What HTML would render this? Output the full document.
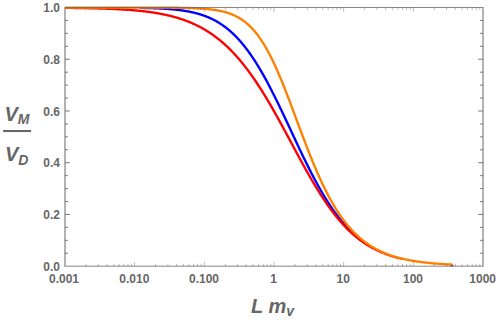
<!DOCTYPE html><html lang="en"><head><title>V_M / V_D versus L m_v</title><meta charset="utf-8"><style>html,body{margin:0;padding:0;background:#fff;overflow:hidden}body{width:498px;height:320px;position:relative}</style></head><body><svg width="498" height="320" viewBox="0 0 498 320" style="position:absolute;left:0;top:0"><rect width="498" height="320" fill="#fff"/><defs><clipPath id="co"><path d="M65.00,7.55 L65.50,7.55 L66.00,7.55 L66.50,7.55 L67.00,7.55 L67.50,7.55 L68.00,7.55 L68.50,7.55 L69.00,7.55 L69.50,7.55 L70.00,7.55 L70.50,7.55 L71.00,7.55 L71.50,7.55 L72.00,7.55 L72.50,7.55 L73.00,7.55 L73.50,7.55 L74.00,7.55 L74.50,7.55 L75.00,7.55 L75.50,7.55 L76.00,7.55 L76.50,7.55 L77.00,7.55 L77.50,7.55 L78.00,7.55 L78.50,7.55 L79.00,7.55 L79.50,7.55 L80.00,7.55 L80.50,7.55 L81.00,7.55 L81.50,7.55 L82.00,7.55 L82.50,7.55 L83.00,7.55 L83.50,7.55 L84.00,7.55 L84.50,7.55 L85.00,7.55 L85.50,7.55 L86.00,7.55 L86.50,7.55 L87.00,7.55 L87.50,7.55 L88.00,7.55 L88.50,7.55 L89.00,7.55 L89.50,7.55 L90.00,7.55 L90.50,7.55 L91.00,7.55 L91.50,7.55 L92.00,7.55 L92.50,7.55 L93.00,7.55 L93.50,7.55 L94.00,7.55 L94.50,7.55 L95.00,7.55 L95.50,7.55 L96.00,7.55 L96.50,7.55 L97.00,7.55 L97.50,7.55 L98.00,7.55 L98.50,7.55 L99.00,7.55 L99.50,7.55 L100.00,7.55 L100.50,7.55 L101.00,7.55 L101.50,7.55 L102.00,7.55 L102.50,7.55 L103.00,7.55 L103.50,7.55 L104.00,7.55 L104.50,7.55 L105.00,7.55 L105.50,7.55 L106.00,7.55 L106.50,7.55 L107.00,7.55 L107.50,7.55 L108.00,7.55 L108.50,7.55 L109.00,7.55 L109.50,7.55 L110.00,7.55 L110.50,7.55 L111.00,7.55 L111.50,7.55 L112.00,7.55 L112.50,7.55 L113.00,7.55 L113.50,7.55 L114.00,7.55 L114.50,7.55 L115.00,7.55 L115.50,7.55 L116.00,7.55 L116.50,7.55 L117.00,7.55 L117.50,7.55 L118.00,7.55 L118.50,7.55 L119.00,7.55 L119.50,7.55 L120.00,7.55 L120.50,7.56 L121.00,7.56 L121.50,7.56 L122.00,7.56 L122.50,7.56 L123.00,7.56 L123.50,7.56 L124.00,7.56 L124.50,7.56 L125.00,7.56 L125.50,7.56 L126.00,7.56 L126.50,7.56 L127.00,7.56 L127.50,7.56 L128.00,7.56 L128.50,7.56 L129.00,7.56 L129.50,7.56 L130.00,7.56 L130.50,7.56 L131.00,7.56 L131.50,7.56 L132.00,7.56 L132.50,7.56 L133.00,7.56 L133.50,7.56 L134.00,7.56 L134.50,7.56 L135.00,7.56 L135.50,7.56 L136.00,7.56 L136.50,7.56 L137.00,7.57 L137.50,7.57 L138.00,7.57 L138.50,7.57 L139.00,7.57 L139.50,7.57 L140.00,7.57 L140.50,7.57 L141.00,7.57 L141.50,7.57 L142.00,7.57 L142.50,7.57 L143.00,7.57 L143.50,7.57 L144.00,7.57 L144.50,7.57 L145.00,7.58 L145.50,7.58 L146.00,7.58 L146.50,7.58 L147.00,7.58 L147.50,7.58 L148.00,7.58 L148.50,7.58 L149.00,7.58 L149.50,7.58 L150.00,7.59 L150.50,7.59 L151.00,7.59 L151.50,7.59 L152.00,7.59 L152.50,7.59 L153.00,7.59 L153.50,7.59 L154.00,7.60 L154.50,7.60 L155.00,7.60 L155.50,7.60 L156.00,7.60 L156.50,7.60 L157.00,7.61 L157.50,7.61 L158.00,7.61 L158.50,7.61 L159.00,7.61 L159.50,7.62 L160.00,7.62 L160.50,7.62 L161.00,7.62 L161.50,7.63 L162.00,7.63 L162.50,7.63 L163.00,7.63 L163.50,7.64 L164.00,7.64 L164.50,7.64 L165.00,7.65 L165.50,7.65 L166.00,7.65 L166.50,7.66 L167.00,7.66 L167.50,7.66 L168.00,7.67 L168.50,7.67 L169.00,7.67 L169.50,7.68 L170.00,7.68 L170.50,7.69 L171.00,7.69 L171.50,7.70 L172.00,7.70 L172.50,7.71 L173.00,7.71 L173.50,7.72 L174.00,7.72 L174.50,7.73 L175.00,7.73 L175.50,7.74 L176.00,7.75 L176.50,7.75 L177.00,7.76 L177.50,7.77 L178.00,7.77 L178.50,7.78 L179.00,7.79 L179.50,7.80 L180.00,7.81 L180.50,7.81 L181.00,7.82 L181.50,7.83 L182.00,7.84 L182.50,7.85 L183.00,7.86 L183.50,7.87 L184.00,7.88 L184.50,7.89 L185.00,7.90 L185.50,7.92 L186.00,7.93 L186.50,7.94 L187.00,7.95 L187.50,7.97 L188.00,7.98 L188.50,8.00 L189.00,8.01 L189.50,8.03 L190.00,8.04 L190.50,8.06 L191.00,8.07 L191.50,8.09 L192.00,8.11 L192.50,8.13 L193.00,8.15 L193.50,8.17 L194.00,8.19 L194.50,8.21 L195.00,8.23 L195.50,8.25 L196.00,8.28 L196.50,8.30 L197.00,8.32 L197.50,8.35 L198.00,8.38 L198.50,8.40 L199.00,8.43 L199.50,8.46 L200.00,8.49 L200.50,8.52 L201.00,8.55 L201.50,8.58 L202.00,8.62 L202.50,8.65 L203.00,8.69 L203.50,8.73 L204.00,8.76 L204.50,8.80 L205.00,8.84 L205.50,8.89 L206.00,8.93 L206.50,8.97 L207.00,9.02 L207.50,9.07 L208.00,9.12 L208.50,9.17 L209.00,9.22 L209.50,9.27 L210.00,9.33 L210.50,9.39 L211.00,9.45 L211.50,9.51 L212.00,9.57 L212.50,9.63 L213.00,9.70 L213.50,9.77 L214.00,9.84 L214.50,9.91 L215.00,9.99 L215.50,10.07 L216.00,10.15 L216.50,10.23 L217.00,10.31 L217.50,10.40 L218.00,10.49 L218.50,10.58 L219.00,10.68 L219.50,10.78 L220.00,10.88 L220.50,10.98 L221.00,11.09 L221.50,11.20 L222.00,11.32 L222.50,11.43 L223.00,11.55 L223.50,11.68 L224.00,11.81 L224.50,11.94 L225.00,12.07 L225.50,12.21 L226.00,12.35 L226.50,12.50 L227.00,12.65 L227.50,12.81 L228.00,12.97 L228.50,13.13 L229.00,13.30 L229.50,13.48 L230.00,13.66 L230.50,13.84 L231.00,14.03 L231.50,14.23 L232.00,14.43 L232.50,14.63 L233.00,14.84 L233.50,15.06 L234.00,15.28 L234.50,15.51 L235.00,15.74 L235.50,15.98 L236.00,16.23 L236.50,16.48 L237.00,16.75 L237.50,17.01 L238.00,17.29 L238.50,17.57 L239.00,17.86 L239.50,18.15 L240.00,18.45 L240.50,18.76 L241.00,19.08 L241.50,19.41 L242.00,19.74 L242.50,20.09 L243.00,20.44 L243.50,20.80 L244.00,21.16 L244.50,21.54 L245.00,21.93 L245.50,22.32 L246.00,22.72 L246.50,23.14 L247.00,23.56 L247.50,23.99 L248.00,24.44 L248.50,24.89 L249.00,25.35 L249.50,25.82 L250.00,26.30 L250.50,26.80 L251.00,27.30 L251.50,27.82 L252.00,28.34 L252.50,28.88 L253.00,29.43 L253.50,29.98 L254.00,30.55 L254.50,31.14 L255.00,31.73 L255.50,32.33 L256.00,32.95 L256.50,33.58 L257.00,34.22 L257.50,34.87 L258.00,35.53 L258.50,36.21 L259.00,36.90 L259.50,37.60 L260.00,38.31 L260.50,39.04 L261.00,39.78 L261.50,40.53 L262.00,41.29 L262.50,42.07 L263.00,42.86 L263.50,43.66 L264.00,44.47 L264.50,45.30 L265.00,46.14 L265.50,46.99 L266.00,47.86 L266.50,48.74 L267.00,49.63 L267.50,50.53 L268.00,51.45 L268.50,52.37 L269.00,53.31 L269.50,54.27 L270.00,55.23 L270.50,56.21 L271.00,57.20 L271.50,58.20 L272.00,59.22 L272.50,60.24 L273.00,61.28 L273.50,62.33 L274.00,63.39 L274.50,64.46 L275.00,65.54 L275.50,66.64 L276.00,67.74 L276.50,68.86 L277.00,69.98 L277.50,71.12 L278.00,72.27 L278.50,73.42 L279.00,74.59 L279.50,75.76 L280.00,76.95 L280.50,78.14 L281.00,79.35 L281.50,80.56 L282.00,81.78 L282.50,83.01 L283.00,84.24 L283.50,85.49 L284.00,86.74 L284.50,88.00 L285.00,89.26 L285.50,90.54 L286.00,91.81 L286.50,93.10 L287.00,94.39 L287.50,95.68 L288.00,96.99 L288.50,98.29 L289.00,99.60 L289.50,100.92 L290.00,102.24 L290.50,103.56 L291.00,104.88 L291.50,106.21 L292.00,107.55 L292.50,108.88 L293.00,110.22 L293.50,111.56 L294.00,112.90 L294.50,114.24 L295.00,115.59 L295.50,116.93 L296.00,118.27 L296.50,119.62 L297.00,120.97 L297.50,122.31 L298.00,123.65 L298.50,125.00 L299.00,126.34 L299.50,127.68 L300.00,129.02 L300.50,130.36 L301.00,131.69 L301.50,133.02 L302.00,134.35 L302.50,135.68 L303.00,137.00 L303.50,138.32 L304.00,139.64 L304.50,140.95 L305.00,142.26 L305.50,143.57 L306.00,144.86 L306.50,146.16 L307.00,147.45 L307.50,148.73 L308.00,150.01 L308.50,151.28 L309.00,152.55 L309.50,153.81 L310.00,155.07 L310.50,156.32 L311.00,157.56 L311.50,158.79 L312.00,160.02 L312.50,161.24 L313.00,162.46 L313.50,163.66 L314.00,164.86 L314.50,166.05 L315.00,167.24 L315.50,168.41 L316.00,169.58 L316.50,170.74 L317.00,171.89 L317.50,173.04 L318.00,174.17 L318.50,175.30 L319.00,176.42 L319.50,177.53 L320.00,178.63 L320.50,179.72 L321.00,180.80 L321.50,181.87 L322.00,182.94 L322.50,184.00 L323.00,185.04 L323.50,186.08 L324.00,187.11 L324.50,188.13 L325.00,189.14 L325.50,190.14 L326.00,191.13 L326.50,192.11 L327.00,193.09 L327.50,194.05 L328.00,195.00 L328.50,195.95 L329.00,196.88 L329.50,197.81 L330.00,198.73 L330.50,199.63 L331.00,200.53 L331.50,201.42 L332.00,202.30 L332.50,203.17 L333.00,204.03 L333.50,204.88 L334.00,205.72 L334.50,206.56 L335.00,207.38 L335.50,208.19 L336.00,209.00 L336.50,209.80 L337.00,210.58 L337.50,211.36 L338.00,212.13 L338.50,212.89 L339.00,213.64 L339.50,214.38 L340.00,215.12 L340.50,215.84 L341.00,216.56 L341.50,217.27 L342.00,217.97 L342.50,218.66 L343.00,219.34 L343.50,220.01 L344.00,220.68 L344.50,221.33 L345.00,221.98 L345.50,222.62 L346.00,223.26 L346.50,223.88 L347.00,224.50 L347.50,225.11 L348.00,225.71 L348.50,226.30 L349.00,226.89 L349.50,227.46 L350.00,228.03 L350.50,228.60 L351.00,229.15 L351.50,229.70 L352.00,230.24 L352.50,230.77 L353.00,231.30 L353.50,231.82 L354.00,232.33 L354.50,232.84 L355.00,233.34 L355.50,233.83 L356.00,234.31 L356.50,234.79 L357.00,235.26 L357.50,235.73 L358.00,236.19 L358.50,236.64 L359.00,237.09 L359.50,237.53 L360.00,237.96 L360.50,238.39 L361.00,238.81 L361.50,239.22 L362.00,239.63 L362.50,240.04 L363.00,240.44 L363.50,240.83 L364.00,241.22 L364.50,241.60 L365.00,241.97 L365.50,242.34 L366.00,242.71 L366.50,243.07 L367.00,243.42 L367.50,243.77 L368.00,244.12 L368.50,244.46 L369.00,244.79 L369.50,245.12 L370.00,245.44 L370.50,245.76 L371.00,246.08 L371.50,246.39 L372.00,246.70 L372.50,247.00 L373.00,247.29 L373.50,247.59 L374.00,247.88 L374.50,248.16 L375.00,248.44 L375.50,248.71 L376.00,248.99 L376.50,249.25 L377.00,249.52 L377.50,249.78 L378.00,250.03 L378.50,250.28 L379.00,250.53 L379.50,250.77 L380.00,251.01 L380.50,251.25 L381.00,251.48 L381.50,251.71 L382.00,251.94 L382.50,252.16 L383.00,252.38 L383.50,252.60 L384.00,252.81 L384.50,253.02 L385.00,253.23 L385.50,253.43 L386.00,253.63 L386.50,253.82 L387.00,254.02 L387.50,254.21 L388.00,254.40 L388.50,254.58 L389.00,254.76 L389.50,254.94 L390.00,255.12 L390.50,255.29 L391.00,255.46 L391.50,255.63 L392.00,255.80 L392.50,255.96 L393.00,256.12 L393.50,256.28 L394.00,256.44 L394.50,256.59 L395.00,256.74 L395.50,256.89 L396.00,257.03 L396.50,257.18 L397.00,257.32 L397.50,257.46 L398.00,257.60 L398.50,257.73 L399.00,257.86 L399.50,257.99 L400.00,258.12 L400.50,258.25 L401.00,258.37 L401.50,258.50 L402.00,258.62 L402.50,258.74 L403.00,258.85 L403.50,258.97 L404.00,259.08 L404.50,259.19 L405.00,259.30 L405.50,259.41 L406.00,259.52 L406.50,259.62 L407.00,259.72 L407.50,259.83 L408.00,259.93 L408.50,260.02 L409.00,260.12 L409.50,260.22 L410.00,260.31 L410.50,260.40 L411.00,260.49 L411.50,260.58 L412.00,260.67 L412.50,260.75 L413.00,260.84 L413.50,260.92 L414.00,261.00 L414.50,261.09 L415.00,261.17 L415.50,261.24 L416.00,261.32 L416.50,261.40 L417.00,261.47 L417.50,261.54 L418.00,261.62 L418.50,261.69 L419.00,261.76 L419.50,261.83 L420.00,261.89 L420.50,261.96 L421.00,262.03 L421.50,262.09 L422.00,262.15 L422.50,262.22 L423.00,262.28 L423.50,262.34 L424.00,262.40 L424.50,262.46 L425.00,262.51 L425.50,262.57 L426.00,262.63 L426.50,262.68 L427.00,262.74 L427.50,262.79 L428.00,262.84 L428.50,262.89 L429.00,262.94 L429.50,262.99 L430.00,263.04 L430.50,263.09 L431.00,263.14 L431.50,263.18 L432.00,263.23 L432.50,263.27 L433.00,263.32 L433.50,263.36 L434.00,263.41 L434.50,263.45 L435.00,263.49 L435.50,263.53 L436.00,263.57 L436.50,263.61 L437.00,263.65 L437.50,263.69 L438.00,263.73 L438.50,263.76 L439.00,263.80 L439.50,263.83 L440.00,263.87 L440.50,263.90 L441.00,263.94 L441.50,263.97 L442.00,264.01 L442.50,264.04 L443.00,264.07 L443.50,264.10 L444.00,264.13 L444.50,264.16 L445.00,264.19 L445.50,264.22 L446.00,264.25 L446.50,264.28 L447.00,264.31 L447.50,264.34 L448.00,264.36 L448.50,264.39 L449.00,264.42 L449.50,264.44 L450.00,264.47 L450.50,264.49 L451.00,264.52 L451.50,264.54 L452.00,264.56 L452.30,264.58 L455.30,264.58 L455.30,330 L0,330 L0,7.55Z"/></clipPath></defs><g clip-path="url(#co)"><path d="M140.00,7.87 L140.50,7.88 L141.00,7.89 L141.50,7.90 L142.00,7.91 L142.50,7.92 L143.00,7.93 L143.50,7.94 L144.00,7.95 L144.50,7.96 L145.00,7.97 L145.50,7.98 L146.00,7.99 L146.50,8.01 L147.00,8.02 L147.50,8.03 L148.00,8.04 L148.50,8.06 L149.00,8.07 L149.50,8.09 L150.00,8.10 L150.50,8.12 L151.00,8.13 L151.50,8.15 L152.00,8.16 L152.50,8.18 L153.00,8.20 L153.50,8.22 L154.00,8.23 L154.50,8.25 L155.00,8.27 L155.50,8.29 L156.00,8.31 L156.50,8.33 L157.00,8.35 L157.50,8.37 L158.00,8.40 L158.50,8.42 L159.00,8.44 L159.50,8.47 L160.00,8.49 L160.50,8.52 L161.00,8.54 L161.50,8.57 L162.00,8.59 L162.50,8.62 L163.00,8.65 L163.50,8.68 L164.00,8.71 L164.50,8.74 L165.00,8.77 L165.50,8.80 L166.00,8.84 L166.50,8.87 L167.00,8.91 L167.50,8.94 L168.00,8.98 L168.50,9.01 L169.00,9.05 L169.50,9.09 L170.00,9.13 L170.50,9.17 L171.00,9.21 L171.50,9.26 L172.00,9.30 L172.50,9.35 L173.00,9.39 L173.50,9.44 L174.00,9.49 L174.50,9.54 L175.00,9.59 L175.50,9.64 L176.00,9.70 L176.50,9.75 L177.00,9.81 L177.50,9.86 L178.00,9.92 L178.50,9.98 L179.00,10.04 L179.50,10.10 L180.00,10.17 L180.50,10.23 L181.00,10.30 L181.50,10.37 L182.00,10.44 L182.50,10.51 L183.00,10.59 L183.50,10.66 L184.00,10.74 L184.50,10.82 L185.00,10.90 L185.50,10.98 L186.00,11.06 L186.50,11.15 L187.00,11.24 L187.50,11.33 L188.00,11.42 L188.50,11.51 L189.00,11.61 L189.50,11.71 L190.00,11.81 L190.50,11.91 L191.00,12.01 L191.50,12.12 L192.00,12.23 L192.50,12.34 L193.00,12.45 L193.50,12.57 L194.00,12.69 L194.50,12.81 L195.00,12.93 L195.50,13.06 L196.00,13.19 L196.50,13.32 L197.00,13.45 L197.50,13.59 L198.00,13.73 L198.50,13.88 L199.00,14.02 L199.50,14.17 L200.00,14.32 L200.50,14.48 L201.00,14.63 L201.50,14.80 L202.00,14.96 L202.50,15.13 L203.00,15.30 L203.50,15.47 L204.00,15.65 L204.50,15.83 L205.00,16.02 L205.50,16.21 L206.00,16.40 L206.50,16.59 L207.00,16.79 L207.50,17.00 L208.00,17.20 L208.50,17.41 L209.00,17.63 L209.50,17.85 L210.00,18.07 L210.50,18.30 L211.00,18.53 L211.50,18.77 L212.00,19.01 L212.50,19.25 L213.00,19.50 L213.50,19.75 L214.00,20.01 L214.50,20.27 L215.00,20.54 L215.50,20.81 L216.00,21.09 L216.50,21.37 L217.00,21.65 L217.50,21.94 L218.00,22.24 L218.50,22.54 L219.00,22.85 L219.50,23.16 L220.00,23.47 L220.50,23.79 L221.00,24.12 L221.50,24.45 L222.00,24.79 L222.50,25.13 L223.00,25.48 L223.50,25.84 L224.00,26.20 L224.50,26.56 L225.00,26.93 L225.50,27.31 L226.00,27.69 L226.50,28.08 L227.00,28.47 L227.50,28.87 L228.00,29.28 L228.50,29.69 L229.00,30.11 L229.50,30.54 L230.00,30.97 L230.50,31.41 L231.00,31.85 L231.50,32.30 L232.00,32.75 L232.50,33.22 L233.00,33.69 L233.50,34.16 L234.00,34.64 L234.50,35.13 L235.00,35.63 L235.50,36.13 L236.00,36.64 L236.50,37.15 L237.00,37.68 L237.50,38.21 L238.00,38.74 L238.50,39.28 L239.00,39.83 L239.50,40.39 L240.00,40.95 L240.50,41.52 L241.00,42.10 L241.50,42.69 L242.00,43.28 L242.50,43.88 L243.00,44.48 L243.50,45.09 L244.00,45.71 L244.50,46.34 L245.00,46.97 L245.50,47.61 L246.00,48.26 L246.50,48.92 L247.00,49.58 L247.50,50.25 L248.00,50.92 L248.50,51.61 L249.00,52.30 L249.50,52.99 L250.00,53.70 L250.50,54.41 L251.00,55.13 L251.50,55.85 L252.00,56.59 L252.50,57.33 L253.00,58.07 L253.50,58.83 L254.00,59.59 L254.50,60.35 L255.00,61.13 L255.50,61.91 L256.00,62.70 L256.50,63.49 L257.00,64.30 L257.50,65.10 L258.00,65.92 L258.50,66.74 L259.00,67.57 L259.50,68.40 L260.00,69.24 L260.50,70.09 L261.00,70.95 L261.50,71.81 L262.00,72.67 L262.50,73.55 L263.00,74.43 L263.50,75.31 L264.00,76.20 L264.50,77.10 L265.00,78.00 L265.50,78.91 L266.00,79.83 L266.50,80.75 L267.00,81.67 L267.50,82.60 L268.00,83.54 L268.50,84.48 L269.00,85.43 L269.50,86.38 L270.00,87.34 L270.50,88.30 L271.00,89.27 L271.50,90.24 L272.00,91.22 L272.50,92.20 L273.00,93.19 L273.50,94.18 L274.00,95.17 L274.50,96.17 L275.00,97.18 L275.50,98.18 L276.00,99.20 L276.50,100.21 L277.00,101.23 L277.50,102.25 L278.00,103.28 L278.50,104.31 L279.00,105.34 L279.50,106.37 L280.00,107.41 L280.50,108.45 L281.00,109.50 L281.50,110.54 L282.00,111.59 L282.50,112.65 L283.00,113.70 L283.50,114.75 L284.00,115.81 L284.50,116.87 L285.00,117.93 L285.50,119.00 L286.00,120.06 L286.50,121.13 L287.00,122.19 L287.50,123.26 L288.00,124.33 L288.50,125.40 L289.00,126.47 L289.50,127.54 L290.00,128.61 L290.50,129.69 L291.00,130.76 L291.50,131.83 L292.00,132.90 L292.50,133.97 L293.00,135.04 L293.50,136.12 L294.00,137.19 L294.50,138.25 L295.00,139.32 L295.50,140.39 L296.00,141.46 L296.50,142.52 L297.00,143.59 L297.50,144.65 L298.00,145.71 L298.50,146.77 L299.00,147.82 L299.50,148.88 L300.00,149.93 L300.50,150.98 L301.00,152.03 L301.50,153.08 L302.00,154.12 L302.50,155.16 L303.00,156.20 L303.50,157.23 L304.00,158.26 L304.50,159.29 L305.00,160.31 L305.50,161.33 L306.00,162.35 L306.50,163.37 L307.00,164.38 L307.50,165.38 L308.00,166.39 L308.50,167.38 L309.00,168.38 L309.50,169.37 L310.00,170.35 L310.50,171.34 L311.00,172.31 L311.50,173.29 L312.00,174.25 L312.50,175.22 L313.00,176.17 L313.50,177.13 L314.00,178.08 L314.50,179.02 L315.00,179.96 L315.50,180.89 L316.00,181.82 L316.50,182.74 L317.00,183.65 L317.50,184.56 L318.00,185.47 L318.50,186.37 L319.00,187.26 L319.50,188.15 L320.00,189.03 L320.50,189.91 L321.00,190.78 L321.50,191.65 L322.00,192.51 L322.50,193.36 L323.00,194.20 L323.50,195.04 L324.00,195.88 L324.50,196.71 L325.00,197.53 L325.50,198.34 L326.00,199.15 L326.50,199.96 L327.00,200.75 L327.50,201.54 L328.00,202.33 L328.50,203.10 L329.00,203.88 L329.50,204.64 L330.00,205.40 L330.50,206.15 L331.00,206.89 L331.50,207.63 L332.00,208.36 L332.50,209.09 L333.00,209.81 L333.50,210.52 L334.00,211.23 L334.50,211.92 L335.00,212.62 L335.50,213.30 L336.00,213.98 L336.50,214.66 L337.00,215.32 L337.50,215.98 L338.00,216.64 L338.50,217.28 L339.00,217.92 L339.50,218.56 L340.00,219.19 L340.50,219.81 L341.00,220.42 L341.50,221.03 L342.00,221.63 L342.50,222.23 L343.00,222.82 L343.50,223.40 L344.00,223.98 L344.50,224.55 L345.00,225.11 L345.50,225.67 L346.00,226.22 L346.50,226.77 L347.00,227.31 L347.50,227.84 L348.00,228.37 L348.50,228.89 L349.00,229.40 L349.50,229.91 L350.00,230.42 L350.50,230.92 L351.00,231.41 L351.50,231.89 L352.00,232.37 L352.50,232.85 L353.00,233.32 L353.50,233.78 L354.00,234.24 L354.50,234.69 L355.00,235.14 L355.50,235.58 L356.00,236.02 L356.50,236.45 L357.00,236.87 L357.50,237.29 L358.00,237.71 L358.50,238.11 L359.00,238.52 L359.50,238.92 L360.00,239.31 L360.50,239.70 L361.00,240.08 L361.50,240.46 L362.00,240.84 L362.50,241.21 L363.00,241.57 L363.50,241.93 L364.00,242.29 L364.50,242.64 L365.00,242.98 L365.50,243.32 L366.00,243.66 L366.50,243.99 L367.00,244.32 L367.50,244.64 L368.00,244.96 L368.50,245.28 L369.00,245.59 L369.50,245.89 L370.00,246.19" fill="none" stroke="#0000ff" stroke-width="2.35" stroke-linejoin="round"/><path d="M65.00,7.85 L65.50,7.86 L66.00,7.86 L66.50,7.87 L67.00,7.87 L67.50,7.88 L68.00,7.88 L68.50,7.89 L69.00,7.89 L69.50,7.90 L70.00,7.90 L70.50,7.91 L71.00,7.92 L71.50,7.92 L72.00,7.93 L72.50,7.93 L73.00,7.94 L73.50,7.95 L74.00,7.95 L74.50,7.96 L75.00,7.97 L75.50,7.97 L76.00,7.98 L76.50,7.99 L77.00,7.99 L77.50,8.00 L78.00,8.01 L78.50,8.02 L79.00,8.02 L79.50,8.03 L80.00,8.04 L80.50,8.05 L81.00,8.06 L81.50,8.07 L82.00,8.07 L82.50,8.08 L83.00,8.09 L83.50,8.10 L84.00,8.11 L84.50,8.12 L85.00,8.13 L85.50,8.14 L86.00,8.15 L86.50,8.16 L87.00,8.17 L87.50,8.18 L88.00,8.19 L88.50,8.20 L89.00,8.21 L89.50,8.22 L90.00,8.23 L90.50,8.24 L91.00,8.25 L91.50,8.26 L92.00,8.27 L92.50,8.29 L93.00,8.30 L93.50,8.31 L94.00,8.32 L94.50,8.34 L95.00,8.35 L95.50,8.36 L96.00,8.37 L96.50,8.39 L97.00,8.40 L97.50,8.42 L98.00,8.43 L98.50,8.44 L99.00,8.46 L99.50,8.47 L100.00,8.49 L100.50,8.50 L101.00,8.52 L101.50,8.53 L102.00,8.55 L102.50,8.57 L103.00,8.58 L103.50,8.60 L104.00,8.62 L104.50,8.63 L105.00,8.65 L105.50,8.67 L106.00,8.69 L106.50,8.71 L107.00,8.72 L107.50,8.74 L108.00,8.76 L108.50,8.78 L109.00,8.80 L109.50,8.82 L110.00,8.84 L110.50,8.86 L111.00,8.89 L111.50,8.91 L112.00,8.93 L112.50,8.95 L113.00,8.97 L113.50,9.00 L114.00,9.02 L114.50,9.04 L115.00,9.07 L115.50,9.09 L116.00,9.12 L116.50,9.14 L117.00,9.17 L117.50,9.19 L118.00,9.22 L118.50,9.25 L119.00,9.27 L119.50,9.30 L120.00,9.33 L120.50,9.36 L121.00,9.39 L121.50,9.42 L122.00,9.45 L122.50,9.48 L123.00,9.51 L123.50,9.54 L124.00,9.57 L124.50,9.60 L125.00,9.64 L125.50,9.67 L126.00,9.70 L126.50,9.74 L127.00,9.77 L127.50,9.81 L128.00,9.84 L128.50,9.88 L129.00,9.92 L129.50,9.95 L130.00,9.99 L130.50,10.03 L131.00,10.07 L131.50,10.11 L132.00,10.15 L132.50,10.19 L133.00,10.23 L133.50,10.28 L134.00,10.32 L134.50,10.36 L135.00,10.41 L135.50,10.45 L136.00,10.50 L136.50,10.54 L137.00,10.59 L137.50,10.64 L138.00,10.69 L138.50,10.74 L139.00,10.79 L139.50,10.84 L140.00,10.89 L140.50,10.94 L141.00,10.99 L141.50,11.05 L142.00,11.10 L142.50,11.16 L143.00,11.21 L143.50,11.27 L144.00,11.33 L144.50,11.39 L145.00,11.45 L145.50,11.51 L146.00,11.57 L146.50,11.63 L147.00,11.70 L147.50,11.76 L148.00,11.83 L148.50,11.89 L149.00,11.96 L149.50,12.03 L150.00,12.10 L150.50,12.17 L151.00,12.24 L151.50,12.31 L152.00,12.38 L152.50,12.46 L153.00,12.53 L153.50,12.61 L154.00,12.69 L154.50,12.77 L155.00,12.85 L155.50,12.93 L156.00,13.01 L156.50,13.09 L157.00,13.18 L157.50,13.26 L158.00,13.35 L158.50,13.44 L159.00,13.53 L159.50,13.62 L160.00,13.71 L160.50,13.80 L161.00,13.90 L161.50,13.99 L162.00,14.09 L162.50,14.19 L163.00,14.29 L163.50,14.39 L164.00,14.50 L164.50,14.60 L165.00,14.71 L165.50,14.81 L166.00,14.92 L166.50,15.03 L167.00,15.15 L167.50,15.26 L168.00,15.37 L168.50,15.49 L169.00,15.61 L169.50,15.73 L170.00,15.85 L170.50,15.97 L171.00,16.10 L171.50,16.23 L172.00,16.35 L172.50,16.48 L173.00,16.62 L173.50,16.75 L174.00,16.89 L174.50,17.02 L175.00,17.16 L175.50,17.30 L176.00,17.45 L176.50,17.59 L177.00,17.74 L177.50,17.89 L178.00,18.04 L178.50,18.19 L179.00,18.35 L179.50,18.50 L180.00,18.66 L180.50,18.82 L181.00,18.99 L181.50,19.15 L182.00,19.32 L182.50,19.49 L183.00,19.66 L183.50,19.84 L184.00,20.01 L184.50,20.19 L185.00,20.37 L185.50,20.56 L186.00,20.74 L186.50,20.93 L187.00,21.12 L187.50,21.31 L188.00,21.51 L188.50,21.71 L189.00,21.91 L189.50,22.11 L190.00,22.32 L190.50,22.52 L191.00,22.74 L191.50,22.95 L192.00,23.16 L192.50,23.38 L193.00,23.61 L193.50,23.83 L194.00,24.06 L194.50,24.29 L195.00,24.52 L195.50,24.75 L196.00,24.99 L196.50,25.23 L197.00,25.48 L197.50,25.73 L198.00,25.98 L198.50,26.23 L199.00,26.48 L199.50,26.74 L200.00,27.01 L200.50,27.27 L201.00,27.54 L201.50,27.81 L202.00,28.09 L202.50,28.36 L203.00,28.65 L203.50,28.93 L204.00,29.22 L204.50,29.51 L205.00,29.81 L205.50,30.10 L206.00,30.40 L206.50,30.71 L207.00,31.02 L207.50,31.33 L208.00,31.65 L208.50,31.96 L209.00,32.29 L209.50,32.61 L210.00,32.94 L210.50,33.28 L211.00,33.61 L211.50,33.96 L212.00,34.30 L212.50,34.65 L213.00,35.00 L213.50,35.36 L214.00,35.72 L214.50,36.08 L215.00,36.45 L215.50,36.82 L216.00,37.20 L216.50,37.58 L217.00,37.96 L217.50,38.35 L218.00,38.74 L218.50,39.13 L219.00,39.53 L219.50,39.94 L220.00,40.35 L220.50,40.76 L221.00,41.18 L221.50,41.60 L222.00,42.02 L222.50,42.45 L223.00,42.88 L223.50,43.32 L224.00,43.76 L224.50,44.21 L225.00,44.66 L225.50,45.12 L226.00,45.58 L226.50,46.04 L227.00,46.51 L227.50,46.98 L228.00,47.46 L228.50,47.94 L229.00,48.43 L229.50,48.92 L230.00,49.42 L230.50,49.92 L231.00,50.42 L231.50,50.93 L232.00,51.45 L232.50,51.97 L233.00,52.49 L233.50,53.02 L234.00,53.55 L234.50,54.09 L235.00,54.63 L235.50,55.18 L236.00,55.73 L236.50,56.29 L237.00,56.85 L237.50,57.42 L238.00,57.99 L238.50,58.56 L239.00,59.14 L239.50,59.73 L240.00,60.32 L240.50,60.91 L241.00,61.51 L241.50,62.12 L242.00,62.73 L242.50,63.34 L243.00,63.96 L243.50,64.59 L244.00,65.21 L244.50,65.85 L245.00,66.49 L245.50,67.13 L246.00,67.78 L246.50,68.43 L247.00,69.09 L247.50,69.75 L248.00,70.42 L248.50,71.09 L249.00,71.77 L249.50,72.45 L250.00,73.13 L250.50,73.83 L251.00,74.52 L251.50,75.22 L252.00,75.93 L252.50,76.64 L253.00,77.35 L253.50,78.07 L254.00,78.79 L254.50,79.52 L255.00,80.26 L255.50,80.99 L256.00,81.73 L256.50,82.48 L257.00,83.23 L257.50,83.99 L258.00,84.75 L258.50,85.51 L259.00,86.28 L259.50,87.05 L260.00,87.83 L260.50,88.61 L261.00,89.40 L261.50,90.19 L262.00,90.98 L262.50,91.78 L263.00,92.58 L263.50,93.39 L264.00,94.20 L264.50,95.01 L265.00,95.83 L265.50,96.65 L266.00,97.48 L266.50,98.31 L267.00,99.14 L267.50,99.98 L268.00,100.82 L268.50,101.67 L269.00,102.51 L269.50,103.37 L270.00,104.22 L270.50,105.08 L271.00,105.94 L271.50,106.80 L272.00,107.67 L272.50,108.54 L273.00,109.42 L273.50,110.29 L274.00,111.17 L274.50,112.05 L275.00,112.94 L275.50,113.83 L276.00,114.72 L276.50,115.61 L277.00,116.51 L277.50,117.41 L278.00,118.31 L278.50,119.21 L279.00,120.11 L279.50,121.02 L280.00,121.93 L280.50,122.84 L281.00,123.75 L281.50,124.67 L282.00,125.58 L282.50,126.50 L283.00,127.42 L283.50,128.34 L284.00,129.27 L284.50,130.19 L285.00,131.11 L285.50,132.04 L286.00,132.97 L286.50,133.90 L287.00,134.82 L287.50,135.75 L288.00,136.68 L288.50,137.62 L289.00,138.55 L289.50,139.48 L290.00,140.41 L290.50,141.34 L291.00,142.28 L291.50,143.21 L292.00,144.14 L292.50,145.07 L293.00,146.01 L293.50,146.94 L294.00,147.87 L294.50,148.80 L295.00,149.73 L295.50,150.66 L296.00,151.59 L296.50,152.52 L297.00,153.45 L297.50,154.37 L298.00,155.30 L298.50,156.22 L299.00,157.14 L299.50,158.06 L300.00,158.98 L300.50,159.90 L301.00,160.82 L301.50,161.73 L302.00,162.64 L302.50,163.55 L303.00,164.46 L303.50,165.37 L304.00,166.27 L304.50,167.17 L305.00,168.07 L305.50,168.97 L306.00,169.86 L306.50,170.76 L307.00,171.65 L307.50,172.53 L308.00,173.41 L308.50,174.29 L309.00,175.17 L309.50,176.04 L310.00,176.91 L310.50,177.78 L311.00,178.65 L311.50,179.51 L312.00,180.36 L312.50,181.22 L313.00,182.07 L313.50,182.91 L314.00,183.75 L314.50,184.59 L315.00,185.43 L315.50,186.26 L316.00,187.08 L316.50,187.90 L317.00,188.72 L317.50,189.53 L318.00,190.34 L318.50,191.15 L319.00,191.95 L319.50,192.74 L320.00,193.53 L320.50,194.32 L321.00,195.10 L321.50,195.88 L322.00,196.65 L322.50,197.42 L323.00,198.18 L323.50,198.94 L324.00,199.69 L324.50,200.44 L325.00,201.18 L325.50,201.92 L326.00,202.65 L326.50,203.38 L327.00,204.10 L327.50,204.82 L328.00,205.53 L328.50,206.24 L329.00,206.94 L329.50,207.64 L330.00,208.33 L330.50,209.02 L331.00,209.70 L331.50,210.37 L332.00,211.04 L332.50,211.70 L333.00,212.36 L333.50,213.02 L334.00,213.66 L334.50,214.31 L335.00,214.94 L335.50,215.58 L336.00,216.20 L336.50,216.82 L337.00,217.44 L337.50,218.05 L338.00,218.65 L338.50,219.25 L339.00,219.84 L339.50,220.43 L340.00,221.01 L340.50,221.59 L341.00,222.16 L341.50,222.72 L342.00,223.28 L342.50,223.84 L343.00,224.39 L343.50,224.93 L344.00,225.47 L344.50,226.00 L345.00,226.53 L345.50,227.05 L346.00,227.57 L346.50,228.08 L347.00,228.58 L347.50,229.09 L348.00,229.58 L348.50,230.07 L349.00,230.56 L349.50,231.03 L350.00,231.51 L350.50,231.98 L351.00,232.44 L351.50,232.90 L352.00,233.35 L352.50,233.80 L353.00,234.25 L353.50,234.69 L354.00,235.12 L354.50,235.55 L355.00,235.97 L355.50,236.39 L356.00,236.80 L356.50,237.21 L357.00,237.62 L357.50,238.02 L358.00,238.41 L358.50,238.80 L359.00,239.19 L359.50,239.57 L360.00,239.94 L360.50,240.31 L361.00,240.68 L361.50,241.04 L362.00,241.40 L362.50,241.76 L363.00,242.10 L363.50,242.45 L364.00,242.79 L364.50,243.13 L365.00,243.46 L365.50,243.79 L366.00,244.11 L366.50,244.43 L367.00,244.74 L367.50,245.05 L368.00,245.36 L368.50,245.66 L369.00,245.96 L369.50,246.26 L370.00,246.55 L370.50,246.84 L371.00,247.12 L371.50,247.40 L372.00,247.68 L372.50,247.95 L373.00,248.22 L373.50,248.48 L374.00,248.74 L374.50,249.00 L375.00,249.26 L375.50,249.51 L376.00,249.76 L376.50,250.00 L377.00,250.24 L377.50,250.48 L378.00,250.71 L378.50,250.94 L379.00,251.17 L379.50,251.40 L380.00,251.62 L380.50,251.84 L381.00,252.05 L381.50,252.26 L382.00,252.47 L382.50,252.68 L383.00,252.88 L383.50,253.08 L384.00,253.28 L384.50,253.48 L385.00,253.67 L385.50,253.86 L386.00,254.04 L386.50,254.23 L387.00,254.41 L387.50,254.59 L388.00,254.76 L388.50,254.94 L389.00,255.11 L389.50,255.28 L390.00,255.44 L390.50,255.61 L391.00,255.77 L391.50,255.93 L392.00,256.08 L392.50,256.24 L393.00,256.39 L393.50,256.54 L394.00,256.69 L394.50,256.83 L395.00,256.98 L395.50,257.12 L396.00,257.26 L396.50,257.39 L397.00,257.53 L397.50,257.66 L398.00,257.79 L398.50,257.92 L399.00,258.05 L399.50,258.17 L400.00,258.30 L400.50,258.42 L401.00,258.54 L401.50,258.65" fill="none" stroke="#ff0000" stroke-width="2.35" stroke-linejoin="round"/></g><path d="M65.00,7.55 L65.50,7.55 L66.00,7.55 L66.50,7.55 L67.00,7.55 L67.50,7.55 L68.00,7.55 L68.50,7.55 L69.00,7.55 L69.50,7.55 L70.00,7.55 L70.50,7.55 L71.00,7.55 L71.50,7.55 L72.00,7.55 L72.50,7.55 L73.00,7.55 L73.50,7.55 L74.00,7.55 L74.50,7.55 L75.00,7.55 L75.50,7.55 L76.00,7.55 L76.50,7.55 L77.00,7.55 L77.50,7.55 L78.00,7.55 L78.50,7.55 L79.00,7.55 L79.50,7.55 L80.00,7.55 L80.50,7.55 L81.00,7.55 L81.50,7.55 L82.00,7.55 L82.50,7.55 L83.00,7.55 L83.50,7.55 L84.00,7.55 L84.50,7.55 L85.00,7.55 L85.50,7.55 L86.00,7.55 L86.50,7.55 L87.00,7.55 L87.50,7.55 L88.00,7.55 L88.50,7.55 L89.00,7.55 L89.50,7.55 L90.00,7.55 L90.50,7.55 L91.00,7.55 L91.50,7.55 L92.00,7.55 L92.50,7.55 L93.00,7.55 L93.50,7.55 L94.00,7.55 L94.50,7.55 L95.00,7.55 L95.50,7.55 L96.00,7.55 L96.50,7.55 L97.00,7.55 L97.50,7.55 L98.00,7.55 L98.50,7.55 L99.00,7.55 L99.50,7.55 L100.00,7.55 L100.50,7.55 L101.00,7.55 L101.50,7.55 L102.00,7.55 L102.50,7.55 L103.00,7.55 L103.50,7.55 L104.00,7.55 L104.50,7.55 L105.00,7.55 L105.50,7.55 L106.00,7.55 L106.50,7.55 L107.00,7.55 L107.50,7.55 L108.00,7.55 L108.50,7.55 L109.00,7.55 L109.50,7.55 L110.00,7.55 L110.50,7.55 L111.00,7.55 L111.50,7.55 L112.00,7.55 L112.50,7.55 L113.00,7.55 L113.50,7.55 L114.00,7.55 L114.50,7.55 L115.00,7.55 L115.50,7.55 L116.00,7.55 L116.50,7.55 L117.00,7.55 L117.50,7.55 L118.00,7.55 L118.50,7.55 L119.00,7.55 L119.50,7.55 L120.00,7.55 L120.50,7.56 L121.00,7.56 L121.50,7.56 L122.00,7.56 L122.50,7.56 L123.00,7.56 L123.50,7.56 L124.00,7.56 L124.50,7.56 L125.00,7.56 L125.50,7.56 L126.00,7.56 L126.50,7.56 L127.00,7.56 L127.50,7.56 L128.00,7.56 L128.50,7.56 L129.00,7.56 L129.50,7.56 L130.00,7.56 L130.50,7.56 L131.00,7.56 L131.50,7.56 L132.00,7.56 L132.50,7.56 L133.00,7.56 L133.50,7.56 L134.00,7.56 L134.50,7.56 L135.00,7.56 L135.50,7.56 L136.00,7.56 L136.50,7.56 L137.00,7.57 L137.50,7.57 L138.00,7.57 L138.50,7.57 L139.00,7.57 L139.50,7.57 L140.00,7.57 L140.50,7.57 L141.00,7.57 L141.50,7.57 L142.00,7.57 L142.50,7.57 L143.00,7.57 L143.50,7.57 L144.00,7.57 L144.50,7.57 L145.00,7.58 L145.50,7.58 L146.00,7.58 L146.50,7.58 L147.00,7.58 L147.50,7.58 L148.00,7.58 L148.50,7.58 L149.00,7.58 L149.50,7.58 L150.00,7.59 L150.50,7.59 L151.00,7.59 L151.50,7.59 L152.00,7.59 L152.50,7.59 L153.00,7.59 L153.50,7.59 L154.00,7.60 L154.50,7.60 L155.00,7.60 L155.50,7.60 L156.00,7.60 L156.50,7.60 L157.00,7.61 L157.50,7.61 L158.00,7.61 L158.50,7.61 L159.00,7.61 L159.50,7.62 L160.00,7.62 L160.50,7.62 L161.00,7.62 L161.50,7.63 L162.00,7.63 L162.50,7.63 L163.00,7.63 L163.50,7.64 L164.00,7.64 L164.50,7.64 L165.00,7.65 L165.50,7.65 L166.00,7.65 L166.50,7.66 L167.00,7.66 L167.50,7.66 L168.00,7.67 L168.50,7.67 L169.00,7.67 L169.50,7.68 L170.00,7.68 L170.50,7.69 L171.00,7.69 L171.50,7.70 L172.00,7.70 L172.50,7.71 L173.00,7.71 L173.50,7.72 L174.00,7.72 L174.50,7.73 L175.00,7.73 L175.50,7.74 L176.00,7.75 L176.50,7.75 L177.00,7.76 L177.50,7.77 L178.00,7.77 L178.50,7.78 L179.00,7.79 L179.50,7.80 L180.00,7.81 L180.50,7.81 L181.00,7.82 L181.50,7.83 L182.00,7.84 L182.50,7.85 L183.00,7.86 L183.50,7.87 L184.00,7.88 L184.50,7.89 L185.00,7.90 L185.50,7.92 L186.00,7.93 L186.50,7.94 L187.00,7.95 L187.50,7.97 L188.00,7.98 L188.50,8.00 L189.00,8.01 L189.50,8.03 L190.00,8.04 L190.50,8.06 L191.00,8.07 L191.50,8.09 L192.00,8.11 L192.50,8.13 L193.00,8.15 L193.50,8.17 L194.00,8.19 L194.50,8.21 L195.00,8.23 L195.50,8.25 L196.00,8.28 L196.50,8.30 L197.00,8.32 L197.50,8.35 L198.00,8.38 L198.50,8.40 L199.00,8.43 L199.50,8.46 L200.00,8.49 L200.50,8.52 L201.00,8.55 L201.50,8.58 L202.00,8.62 L202.50,8.65 L203.00,8.69 L203.50,8.73 L204.00,8.76 L204.50,8.80 L205.00,8.84 L205.50,8.89 L206.00,8.93 L206.50,8.97 L207.00,9.02 L207.50,9.07 L208.00,9.12 L208.50,9.17 L209.00,9.22 L209.50,9.27 L210.00,9.33 L210.50,9.39 L211.00,9.45 L211.50,9.51 L212.00,9.57 L212.50,9.63 L213.00,9.70 L213.50,9.77 L214.00,9.84 L214.50,9.91 L215.00,9.99 L215.50,10.07 L216.00,10.15 L216.50,10.23 L217.00,10.31 L217.50,10.40 L218.00,10.49 L218.50,10.58 L219.00,10.68 L219.50,10.78 L220.00,10.88 L220.50,10.98 L221.00,11.09 L221.50,11.20 L222.00,11.32 L222.50,11.43 L223.00,11.55 L223.50,11.68 L224.00,11.81 L224.50,11.94 L225.00,12.07 L225.50,12.21 L226.00,12.35 L226.50,12.50 L227.00,12.65 L227.50,12.81 L228.00,12.97 L228.50,13.13 L229.00,13.30 L229.50,13.48 L230.00,13.66 L230.50,13.84 L231.00,14.03 L231.50,14.23 L232.00,14.43 L232.50,14.63 L233.00,14.84 L233.50,15.06 L234.00,15.28 L234.50,15.51 L235.00,15.74 L235.50,15.98 L236.00,16.23 L236.50,16.48 L237.00,16.75 L237.50,17.01 L238.00,17.29 L238.50,17.57 L239.00,17.86 L239.50,18.15 L240.00,18.45 L240.50,18.76 L241.00,19.08 L241.50,19.41 L242.00,19.74 L242.50,20.09 L243.00,20.44 L243.50,20.80 L244.00,21.16 L244.50,21.54 L245.00,21.93 L245.50,22.32 L246.00,22.72 L246.50,23.14 L247.00,23.56 L247.50,23.99 L248.00,24.44 L248.50,24.89 L249.00,25.35 L249.50,25.82 L250.00,26.30 L250.50,26.80 L251.00,27.30 L251.50,27.82 L252.00,28.34 L252.50,28.88 L253.00,29.43 L253.50,29.98 L254.00,30.55 L254.50,31.14 L255.00,31.73 L255.50,32.33 L256.00,32.95 L256.50,33.58 L257.00,34.22 L257.50,34.87 L258.00,35.53 L258.50,36.21 L259.00,36.90 L259.50,37.60 L260.00,38.31 L260.50,39.04 L261.00,39.78 L261.50,40.53 L262.00,41.29 L262.50,42.07 L263.00,42.86 L263.50,43.66 L264.00,44.47 L264.50,45.30 L265.00,46.14 L265.50,46.99 L266.00,47.86 L266.50,48.74 L267.00,49.63 L267.50,50.53 L268.00,51.45 L268.50,52.37 L269.00,53.31 L269.50,54.27 L270.00,55.23 L270.50,56.21 L271.00,57.20 L271.50,58.20 L272.00,59.22 L272.50,60.24 L273.00,61.28 L273.50,62.33 L274.00,63.39 L274.50,64.46 L275.00,65.54 L275.50,66.64 L276.00,67.74 L276.50,68.86 L277.00,69.98 L277.50,71.12 L278.00,72.27 L278.50,73.42 L279.00,74.59 L279.50,75.76 L280.00,76.95 L280.50,78.14 L281.00,79.35 L281.50,80.56 L282.00,81.78 L282.50,83.01 L283.00,84.24 L283.50,85.49 L284.00,86.74 L284.50,88.00 L285.00,89.26 L285.50,90.54 L286.00,91.81 L286.50,93.10 L287.00,94.39 L287.50,95.68 L288.00,96.99 L288.50,98.29 L289.00,99.60 L289.50,100.92 L290.00,102.24 L290.50,103.56 L291.00,104.88 L291.50,106.21 L292.00,107.55 L292.50,108.88 L293.00,110.22 L293.50,111.56 L294.00,112.90 L294.50,114.24 L295.00,115.59 L295.50,116.93 L296.00,118.27 L296.50,119.62 L297.00,120.97 L297.50,122.31 L298.00,123.65 L298.50,125.00 L299.00,126.34 L299.50,127.68 L300.00,129.02 L300.50,130.36 L301.00,131.69 L301.50,133.02 L302.00,134.35 L302.50,135.68 L303.00,137.00 L303.50,138.32 L304.00,139.64 L304.50,140.95 L305.00,142.26 L305.50,143.57 L306.00,144.86 L306.50,146.16 L307.00,147.45 L307.50,148.73 L308.00,150.01 L308.50,151.28 L309.00,152.55 L309.50,153.81 L310.00,155.07 L310.50,156.32 L311.00,157.56 L311.50,158.79 L312.00,160.02 L312.50,161.24 L313.00,162.46 L313.50,163.66 L314.00,164.86 L314.50,166.05 L315.00,167.24 L315.50,168.41 L316.00,169.58 L316.50,170.74 L317.00,171.89 L317.50,173.04 L318.00,174.17 L318.50,175.30 L319.00,176.42 L319.50,177.53 L320.00,178.63 L320.50,179.72 L321.00,180.80 L321.50,181.87 L322.00,182.94 L322.50,184.00 L323.00,185.04 L323.50,186.08 L324.00,187.11 L324.50,188.13 L325.00,189.14 L325.50,190.14 L326.00,191.13 L326.50,192.11 L327.00,193.09 L327.50,194.05 L328.00,195.00 L328.50,195.95 L329.00,196.88 L329.50,197.81 L330.00,198.73 L330.50,199.63 L331.00,200.53 L331.50,201.42 L332.00,202.30 L332.50,203.17 L333.00,204.03 L333.50,204.88 L334.00,205.72 L334.50,206.56 L335.00,207.38 L335.50,208.19 L336.00,209.00 L336.50,209.80 L337.00,210.58 L337.50,211.36 L338.00,212.13 L338.50,212.89 L339.00,213.64 L339.50,214.38 L340.00,215.12 L340.50,215.84 L341.00,216.56 L341.50,217.27 L342.00,217.97 L342.50,218.66 L343.00,219.34 L343.50,220.01 L344.00,220.68 L344.50,221.33 L345.00,221.98 L345.50,222.62 L346.00,223.26 L346.50,223.88 L347.00,224.50 L347.50,225.11 L348.00,225.71 L348.50,226.30 L349.00,226.89 L349.50,227.46 L350.00,228.03 L350.50,228.60 L351.00,229.15 L351.50,229.70 L352.00,230.24 L352.50,230.77 L353.00,231.30 L353.50,231.82 L354.00,232.33 L354.50,232.84 L355.00,233.34 L355.50,233.83 L356.00,234.31 L356.50,234.79 L357.00,235.26 L357.50,235.73 L358.00,236.19 L358.50,236.64 L359.00,237.09 L359.50,237.53 L360.00,237.96 L360.50,238.39 L361.00,238.81 L361.50,239.22 L362.00,239.63 L362.50,240.04 L363.00,240.44 L363.50,240.83 L364.00,241.22 L364.50,241.60 L365.00,241.97 L365.50,242.34 L366.00,242.71 L366.50,243.07 L367.00,243.42 L367.50,243.77 L368.00,244.12 L368.50,244.46 L369.00,244.79 L369.50,245.12 L370.00,245.44 L370.50,245.76 L371.00,246.08 L371.50,246.39 L372.00,246.70 L372.50,247.00 L373.00,247.29 L373.50,247.59 L374.00,247.88 L374.50,248.16 L375.00,248.44 L375.50,248.71 L376.00,248.99 L376.50,249.25 L377.00,249.52 L377.50,249.78 L378.00,250.03 L378.50,250.28 L379.00,250.53 L379.50,250.77 L380.00,251.01 L380.50,251.25 L381.00,251.48 L381.50,251.71 L382.00,251.94 L382.50,252.16 L383.00,252.38 L383.50,252.60 L384.00,252.81 L384.50,253.02 L385.00,253.23 L385.50,253.43 L386.00,253.63 L386.50,253.82 L387.00,254.02 L387.50,254.21 L388.00,254.40 L388.50,254.58 L389.00,254.76 L389.50,254.94 L390.00,255.12 L390.50,255.29 L391.00,255.46 L391.50,255.63 L392.00,255.80 L392.50,255.96 L393.00,256.12 L393.50,256.28 L394.00,256.44 L394.50,256.59 L395.00,256.74 L395.50,256.89 L396.00,257.03 L396.50,257.18 L397.00,257.32 L397.50,257.46 L398.00,257.60 L398.50,257.73 L399.00,257.86 L399.50,257.99 L400.00,258.12 L400.50,258.25 L401.00,258.37 L401.50,258.50 L402.00,258.62 L402.50,258.74 L403.00,258.85 L403.50,258.97 L404.00,259.08 L404.50,259.19 L405.00,259.30 L405.50,259.41 L406.00,259.52 L406.50,259.62 L407.00,259.72 L407.50,259.83 L408.00,259.93 L408.50,260.02 L409.00,260.12 L409.50,260.22 L410.00,260.31 L410.50,260.40 L411.00,260.49 L411.50,260.58 L412.00,260.67 L412.50,260.75 L413.00,260.84 L413.50,260.92 L414.00,261.00 L414.50,261.09 L415.00,261.17 L415.50,261.24 L416.00,261.32 L416.50,261.40 L417.00,261.47 L417.50,261.54 L418.00,261.62 L418.50,261.69 L419.00,261.76 L419.50,261.83 L420.00,261.89 L420.50,261.96 L421.00,262.03 L421.50,262.09 L422.00,262.15 L422.50,262.22 L423.00,262.28 L423.50,262.34 L424.00,262.40 L424.50,262.46 L425.00,262.51 L425.50,262.57 L426.00,262.63 L426.50,262.68 L427.00,262.74 L427.50,262.79 L428.00,262.84 L428.50,262.89 L429.00,262.94 L429.50,262.99 L430.00,263.04 L430.50,263.09 L431.00,263.14 L431.50,263.18 L432.00,263.23 L432.50,263.27 L433.00,263.32 L433.50,263.36 L434.00,263.41 L434.50,263.45 L435.00,263.49 L435.50,263.53 L436.00,263.57 L436.50,263.61 L437.00,263.65 L437.50,263.69 L438.00,263.73 L438.50,263.76 L439.00,263.80 L439.50,263.83 L440.00,263.87 L440.50,263.90 L441.00,263.94 L441.50,263.97 L442.00,264.01 L442.50,264.04 L443.00,264.07 L443.50,264.10 L444.00,264.13 L444.50,264.16 L445.00,264.19 L445.50,264.22 L446.00,264.25 L446.50,264.28 L447.00,264.31 L447.50,264.34 L448.00,264.36 L448.50,264.39 L449.00,264.42 L449.50,264.44 L450.00,264.47 L450.50,264.49 L451.00,264.52 L451.50,264.54 L451.4,267.0" fill="none" stroke="#ff8000" stroke-width="2.35" stroke-linejoin="round"/><circle cx="452.6" cy="265.4" r="0.75" fill="#2a10e0"/><path d="M65.0,253.26h2.9M483.0,253.26h-2.9M65.0,240.33h2.9M483.0,240.33h-2.9M65.0,227.39h2.9M483.0,227.39h-2.9M65.0,214.46h4.8M483.0,214.46h-4.8M65.0,201.52h2.9M483.0,201.52h-2.9M65.0,188.59h2.9M483.0,188.59h-2.9M65.0,175.65h2.9M483.0,175.65h-2.9M65.0,162.72h4.8M483.0,162.72h-4.8M65.0,149.78h2.9M483.0,149.78h-2.9M65.0,136.85h2.9M483.0,136.85h-2.9M65.0,123.91h2.9M483.0,123.91h-2.9M65.0,110.98h4.8M483.0,110.98h-4.8M65.0,98.04h2.9M483.0,98.04h-2.9M65.0,85.11h2.9M483.0,85.11h-2.9M65.0,72.18h2.9M483.0,72.18h-2.9M65.0,59.24h4.8M483.0,59.24h-4.8M65.0,46.30h2.9M483.0,46.30h-2.9M65.0,33.37h2.9M483.0,33.37h-2.9M65.0,20.43h2.9M483.0,20.43h-2.9" stroke="#666666" stroke-width="0.9" fill="none"/><path d="M85.97,266.2v-2.4M85.97,7.5v2.4M98.24,266.2v-2.4M98.24,7.5v2.4M106.94,266.2v-2.4M106.94,7.5v2.4M113.69,266.2v-2.4M113.69,7.5v2.4M119.21,266.2v-2.4M119.21,7.5v2.4M123.88,266.2v-2.4M123.88,7.5v2.4M127.92,266.2v-2.4M127.92,7.5v2.4M131.48,266.2v-2.4M131.48,7.5v2.4M134.67,266.2v-4.3M134.67,7.5v4.3M155.64,266.2v-2.4M155.64,7.5v2.4M167.91,266.2v-2.4M167.91,7.5v2.4M176.61,266.2v-2.4M176.61,7.5v2.4M183.36,266.2v-2.4M183.36,7.5v2.4M188.88,266.2v-2.4M188.88,7.5v2.4M193.54,266.2v-2.4M193.54,7.5v2.4M197.58,266.2v-2.4M197.58,7.5v2.4M201.15,266.2v-2.4M201.15,7.5v2.4M204.33,266.2v-4.3M204.33,7.5v4.3M225.31,266.2v-2.4M225.31,7.5v2.4M237.57,266.2v-2.4M237.57,7.5v2.4M246.28,266.2v-2.4M246.28,7.5v2.4M253.03,266.2v-2.4M253.03,7.5v2.4M258.54,266.2v-2.4M258.54,7.5v2.4M263.21,266.2v-2.4M263.21,7.5v2.4M267.25,266.2v-2.4M267.25,7.5v2.4M270.81,266.2v-2.4M270.81,7.5v2.4M274.0,266.2v-4.3M274.0,7.5v4.3M294.97,266.2v-2.4M294.97,7.5v2.4M307.24,266.2v-2.4M307.24,7.5v2.4M315.94,266.2v-2.4M315.94,7.5v2.4M322.69,266.2v-2.4M322.69,7.5v2.4M328.21,266.2v-2.4M328.21,7.5v2.4M332.88,266.2v-2.4M332.88,7.5v2.4M336.92,266.2v-2.4M336.92,7.5v2.4M340.48,266.2v-2.4M340.48,7.5v2.4M343.67,266.2v-4.3M343.67,7.5v4.3M364.64,266.2v-2.4M364.64,7.5v2.4M376.91,266.2v-2.4M376.91,7.5v2.4M385.61,266.2v-2.4M385.61,7.5v2.4M392.36,266.2v-2.4M392.36,7.5v2.4M397.88,266.2v-2.4M397.88,7.5v2.4M402.54,266.2v-2.4M402.54,7.5v2.4M406.58,266.2v-2.4M406.58,7.5v2.4M410.15,266.2v-2.4M410.15,7.5v2.4M413.33,266.2v-4.3M413.33,7.5v4.3M434.31,266.2v-2.4M434.31,7.5v2.4M446.57,266.2v-2.4M446.57,7.5v2.4M455.28,266.2v-2.4M455.28,7.5v2.4M462.03,266.2v-2.4M462.03,7.5v2.4M467.54,266.2v-2.4M467.54,7.5v2.4M472.21,266.2v-2.4M472.21,7.5v2.4M476.25,266.2v-2.4M476.25,7.5v2.4M479.81,266.2v-2.4M479.81,7.5v2.4" stroke="#666666" stroke-width="0.46" fill="none"/><path d="M64.5,7.5H483.5" stroke="#666666" stroke-width="0.78" fill="none"/><path d="M64.5,266.2H483.5" stroke="#666666" stroke-width="0.8" fill="none"/><path d="M65.0,7.5V266.2M483.0,7.5V266.2" stroke="#666666" stroke-width="1" fill="none"/><rect x="3.1" y="130" width="28" height="2.05" fill="#666666"/><g fill="#666666" stroke="none" aria-label="axis labels"><text x="60" y="270.9" text-anchor="end" style="font-family:'Liberation Sans',sans-serif;font-weight:bold;font-size:12px">0.0</text><text x="60" y="219.2" text-anchor="end" style="font-family:'Liberation Sans',sans-serif;font-weight:bold;font-size:12px">0.2</text><text x="60" y="167.4" text-anchor="end" style="font-family:'Liberation Sans',sans-serif;font-weight:bold;font-size:12px">0.4</text><text x="60" y="115.7" text-anchor="end" style="font-family:'Liberation Sans',sans-serif;font-weight:bold;font-size:12px">0.6</text><text x="60" y="63.9" text-anchor="end" style="font-family:'Liberation Sans',sans-serif;font-weight:bold;font-size:12px">0.8</text><text x="60" y="12.2" text-anchor="end" style="font-family:'Liberation Sans',sans-serif;font-weight:bold;font-size:12px">1.0</text><text x="64.0" y="283" text-anchor="middle" style="font-family:'Liberation Sans',sans-serif;font-weight:bold;font-size:12px">0.001</text><text x="134.3" y="283" text-anchor="middle" style="font-family:'Liberation Sans',sans-serif;font-weight:bold;font-size:12px">0.010</text><text x="204.0" y="283" text-anchor="middle" style="font-family:'Liberation Sans',sans-serif;font-weight:bold;font-size:12px">0.100</text><text x="273.5" y="283" text-anchor="middle" style="font-family:'Liberation Sans',sans-serif;font-weight:bold;font-size:12px">1</text><text x="343.3" y="283" text-anchor="middle" style="font-family:'Liberation Sans',sans-serif;font-weight:bold;font-size:12px">10</text><text x="413.0" y="283" text-anchor="middle" style="font-family:'Liberation Sans',sans-serif;font-weight:bold;font-size:12px">100</text><text x="482.7" y="283" text-anchor="middle" style="font-family:'Liberation Sans',sans-serif;font-weight:bold;font-size:12px">1000</text><text x="4.5" y="120.6" style="font-family:'Liberation Sans',sans-serif;font-weight:bold;font-style:italic;font-size:20px">V<tspan dy="3.2" font-size="14">M</tspan></text><text x="5" y="161.3" style="font-family:'Liberation Sans',sans-serif;font-weight:bold;font-style:italic;font-size:20px">V<tspan dy="3.8" font-size="14">D</tspan></text><text x="251" y="312.7" style="font-family:'Liberation Sans',sans-serif;font-weight:bold;font-style:italic;font-size:20px">L m<tspan dy="3.4" font-size="14">v</tspan></text></g></svg></body></html>
